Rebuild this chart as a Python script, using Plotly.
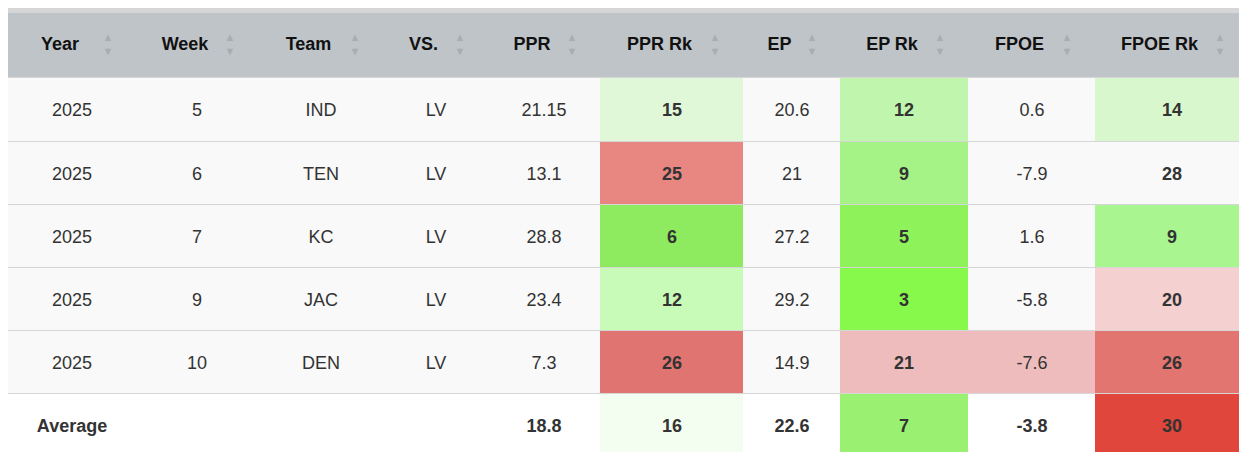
import plotly.graph_objects as go
import numpy as np

headers = ["Year", "Week", "Team", "VS.", "PPR", "PPR Rk", "EP", "EP Rk", "FPOE", "FPOE Rk"]
year = ["2025", "2025", "2025", "2025", "2025", "<b>Average</b>"]
week = ["5", "6", "7", "9", "10", ""]
team = ["IND", "TEN", "KC", "JAC", "DEN", ""]
vs = ["LV", "LV", "LV", "LV", "LV", ""]
ppr = ["21.15", "13.1", "28.8", "23.4", "7.3", "<b>18.8</b>"]
ppr_rk = [15, 25, 6, 12, 26, 16]
ep = ["20.6", "21", "27.2", "29.2", "14.9", "<b>22.6</b>"]
ep_rk = [12, 9, 5, 3, 21, 7]
fpoe = ["0.6", "-7.9", "1.6", "-5.8", "-7.6", "<b>-3.8</b>"]
fpoe_rk = [14, 28, 9, 20, 26, 30]

ppr_rk_col = ["#e0f7d8", "#e88682", "#8eea5e", "#c8fbb8", "#e07470", "#f3fdf0"]
ep_rk_col = ["#bff5ac", "#a5f386", "#8ef35a", "#86f94a", "#eebcbc", "#9af070"]
fpoe_rk_col = ["#d8f7cc", "#e55e58", "#a9f590", "#f5d0d0", "#e27570", "#e0463b"]

# layout geometry (pixels)
col_w = [128, 122, 125, 105, 112, 143, 97, 128, 127, 153]
row_edges = [5, 70, 134, 197, 260, 323, 386, 449]

base = ["#f9f9f9"] * 5 + ["#ffffff"]
bold = lambda v: ["<b>%s</b>" % x for x in v]
cols = [year, week, team, vs, ppr, bold(ppr_rk), ep, bold(ep_rk), fpoe, bold(fpoe_rk)]
fills = [base, base, base, base, base, ppr_rk_col, base, ep_rk_col, base, fpoe_rk_col]

nrow, ncol = 7, len(headers)
colors, z, text = [], [], []
for r in range(nrow):
    zr, tr = [], []
    for c in range(ncol):
        if r == 0:
            colors.append("#bfc4c8"); tr.append("")
        else:
            colors.append(fills[c][r - 1]); tr.append(cols[c][r - 1])
        zr.append(len(colors) - 1)
    z.append(zr); text.append(tr)
n = len(colors)
cs = []
for i, col in enumerate(colors):
    cs.append([i / n, col]); cs.append([(i + 1) / n, col])

x_edges = list(np.concatenate([[0], np.cumsum(col_w)]))
x_cent = [(x_edges[i] + x_edges[i + 1]) / 2 for i in range(ncol)]

fig = go.Figure()
fig.add_trace(go.Heatmap(z=z, x=x_edges, y=row_edges, colorscale=cs, zmin=-0.5 + 0.5, zmax=n,
                         showscale=False, ygap=1, text=text, texttemplate="%{text}",
                         textfont=dict(family="Liberation Sans, Arial", size=18, color="#333"),
                         hoverinfo="skip"))
# header labels and sort arrows
hy = (row_edges[0] + row_edges[1]) / 2
fig.add_trace(go.Scatter(x=[xc - 12 for xc in x_cent], y=[hy] * ncol, mode="text",
                         text=["<b>%s</b>" % h for h in headers],
                         textfont=dict(family="Liberation Sans, Arial", size=18, color="#111"),
                         hoverinfo="skip"))
fig.add_trace(go.Scatter(x=[xe - 28 for xe in x_edges[1:]], y=[hy - 7] * ncol, mode="text", text=["▲"] * ncol,
                         textfont=dict(size=11, color="#a9adb1"), hoverinfo="skip"))
fig.add_trace(go.Scatter(x=[xe - 28 for xe in x_edges[1:]], y=[hy + 7] * ncol, mode="text", text=["▼"] * ncol,
                         textfont=dict(size=11, color="#a9adb1"), hoverinfo="skip"))
fig.update_xaxes(range=[0, 1247], visible=False, fixedrange=True)
fig.update_yaxes(range=[452, 0], visible=False, fixedrange=True)
fig.update_layout(width=1247, height=452, margin=dict(l=0, r=0, t=0, b=0),
                  paper_bgcolor="white", plot_bgcolor="#d6d6d6", showlegend=False)
fig.write_html("out.html")
